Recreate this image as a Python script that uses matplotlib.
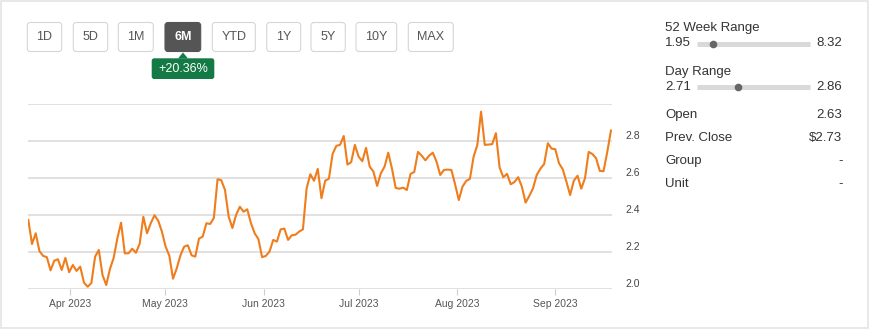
import numpy as np
import pandas as pd
import matplotlib
matplotlib.use("Agg")
import matplotlib.pyplot as plt
import matplotlib.dates as mdates
from matplotlib.patches import FancyBboxPatch, Rectangle, Polygon

plt.rcParams['font.family'] = ['Liberation Sans', 'DejaVu Sans']

# closing prices (6M view, Mar 2023 - Sep 2023)
price = [2.374, 2.244, 2.302, 2.206, 2.180, 2.173, 2.102, 2.154, 2.162, 2.104,
         2.169, 2.092, 2.131, 2.099, 2.122, 2.036, 2.014, 2.034, 2.176, 2.212,
         2.077, 2.023, 2.109, 2.169, 2.275, 2.359, 2.194, 2.194, 2.219, 2.197,
         2.244, 2.391, 2.302, 2.356, 2.399, 2.370, 2.311, 2.230, 2.181, 2.057,
         2.113, 2.183, 2.230, 2.237, 2.183, 2.176, 2.273, 2.284, 2.356, 2.352,
         2.384, 2.593, 2.588, 2.535, 2.391, 2.330, 2.401, 2.445, 2.418, 2.431,
         2.356, 2.302, 2.271, 2.173, 2.180, 2.203, 2.266, 2.257, 2.323, 2.327,
         2.266, 2.291, 2.294, 2.311, 2.323, 2.544, 2.620, 2.585, 2.649, 2.491,
         2.585, 2.596, 2.729, 2.773, 2.778, 2.826, 2.672, 2.685, 2.778, 2.715,
         2.690, 2.762, 2.661, 2.634, 2.557, 2.625, 2.661, 2.736, 2.650, 2.546,
         2.542, 2.548, 2.535, 2.622, 2.632, 2.740, 2.720, 2.695, 2.720, 2.736,
         2.688, 2.616, 2.643, 2.645, 2.643, 2.566, 2.481, 2.553, 2.584, 2.595,
         2.715, 2.778, 2.957, 2.778, 2.780, 2.782, 2.841, 2.656, 2.604, 2.622,
         2.566, 2.578, 2.604, 2.553, 2.467, 2.503, 2.544, 2.616, 2.650, 2.675,
         2.787, 2.758, 2.755, 2.679, 2.647, 2.580, 2.508, 2.585, 2.612, 2.542,
         2.598, 2.740, 2.729, 2.706, 2.638, 2.636, 2.739, 2.855]
dates = pd.date_range("2023-03-18 18:00", "2023-09-18 16:00", periods=len(price))

ranges = ["1D", "5D", "1M", "6M", "YTD", "1Y", "5Y", "10Y", "MAX"]
active_range = "6M"
change_label = "+20.36%"

week_low, week_high, week_mark = 1.95, 8.32, 2.85
day_low, day_high, day_mark = 2.71, 2.86, 2.764
stat_names = ["Open", "Prev. Close", "Group", "Unit"]
stat_values = ["2.63", "$2.73", "-", "-"]

yticks = [2.0, 2.2, 2.4, 2.6, 2.8, 3.0]

W, H = 871, 331
fig = plt.figure(figsize=(W / 100, H / 100), dpi=100)

# ---------------- price chart
ax = fig.add_axes([27.5 / W, (H - 289.3) / H, (612 - 27.5) / W, (289.3 - 103.7) / H])
ax.plot(dates, price, color='#ef7d1c', lw=1.5, solid_joinstyle='round', zorder=3)
ax.set_xlim(pd.Timestamp("2023-03-18 12:00"), pd.Timestamp("2023-09-19 00:00"))
ax.set_ylim(2.0, 3.0)
for s in ax.spines.values():
    s.set_visible(False)
ax.set_yticks(yticks)
ax.set_yticklabels(["%.1f" % v if v < 2.95 else "" for v in yticks])
ax.grid(axis='y', color='#dcdcdc', lw=1.2)
ax.set_axisbelow(True)
ax.yaxis.tick_right()
ax.tick_params(axis='y', length=0, pad=9.5, labelsize=7.5, labelcolor='#444444')
for lab in ax.get_yticklabels():
    lab.set_va('bottom')
ax.xaxis.set_major_locator(mdates.MonthLocator(bymonth=[4, 5, 6, 7, 8, 9]))
ax.xaxis.set_major_formatter(mdates.DateFormatter('%b %Y'))
ax.tick_params(axis='x', length=4, width=0.8, color='#cccccc', pad=3,
               labelsize=7.5, labelcolor='#555555')

# ---------------- overlay for the page widgets (pixel coordinates)
ov = fig.add_axes([0, 0, 1, 1], zorder=-1)
ov.set_xlim(0, W)
ov.set_ylim(H, 0)
ov.axis('off')
ov.add_patch(Rectangle((0.5, 0.5), W - 3.5, H - 4, fill=False, ec='#e4e4e4', lw=1.2))

ov2 = fig.add_axes([0, 0, 1, 1], zorder=5)
ov2.set_xlim(0, W)
ov2.set_ylim(H, 0)
ov2.axis('off')
ov2.patch.set_alpha(0)

btn_x = [27.3, 73.3, 118.3, 165, 212.3, 266.7, 311, 356, 408.3]
btn_w = [34.4, 34.4, 35, 35.7, 43, 34, 34.3, 40.7, 45]
for name, bx, bw in zip(ranges, btn_x, btn_w):
    active = name == active_range
    ov2.add_patch(FancyBboxPatch((bx, 22.5), bw, 29, boxstyle="round,pad=0,rounding_size=3",
                                 fc='#555555' if active else 'white',
                                 ec='#555555' if active else '#d6d6d6', lw=0.8))
    ov2.text(bx + bw / 2, 37.5, name, ha='center', va='center', fontsize=9,
             color='white' if active else '#555555',
             fontweight='bold' if active else 'normal')

# change badge under the active button
cx = 183
ov2.add_patch(Polygon([[cx - 5, 58.5], [cx + 5, 58.5], [cx, 52.5]], closed=True, fc='#137a45', ec='none'))
ov2.add_patch(FancyBboxPatch((151.7, 58.3), 62.6, 20.7, boxstyle="round,pad=0,rounding_size=2.5",
                             fc='#137a45', ec='none'))
ov2.text(183, 68.8, change_label, ha='center', va='center', fontsize=9, color='white')

# ---------------- right panel
tx, rx = 665, 842.5
bar_l, bar_r = 697.3, 810
txt = dict(fontsize=9.5, color='#333333', va='center')

def range_row(title, lo, hi, mark, y_title, y_bar):
    ov2.text(tx, y_title, title, ha='left', **txt)
    ov2.text(tx, y_bar, "%.2f" % lo, ha='left', **txt)
    ov2.text(rx, y_bar, "%.2f" % hi, ha='right', **txt)
    ov2.plot([bar_l, bar_r], [y_bar, y_bar], color='#d9d9d9', lw=3.6, solid_capstyle='butt')
    mx = bar_l + (mark - lo) / (hi - lo) * (bar_r - bar_l)
    ov2.plot([mx], [y_bar], 'o', color='#666666', ms=5.5, mec='none')

range_row("52 Week Range", week_low, week_high, week_mark, 28.3, 43.5)
range_row("Day Range", day_low, day_high, day_mark, 71.7, 86.8)

for i, (n, v) in enumerate(zip(stat_names, stat_values)):
    y = 115 + i * 23
    ov2.text(tx, y, n, ha='left', **txt)
    ov2.text(rx, y, v, ha='right', **txt)

fig.savefig("out.png", dpi=100, facecolor='white')
